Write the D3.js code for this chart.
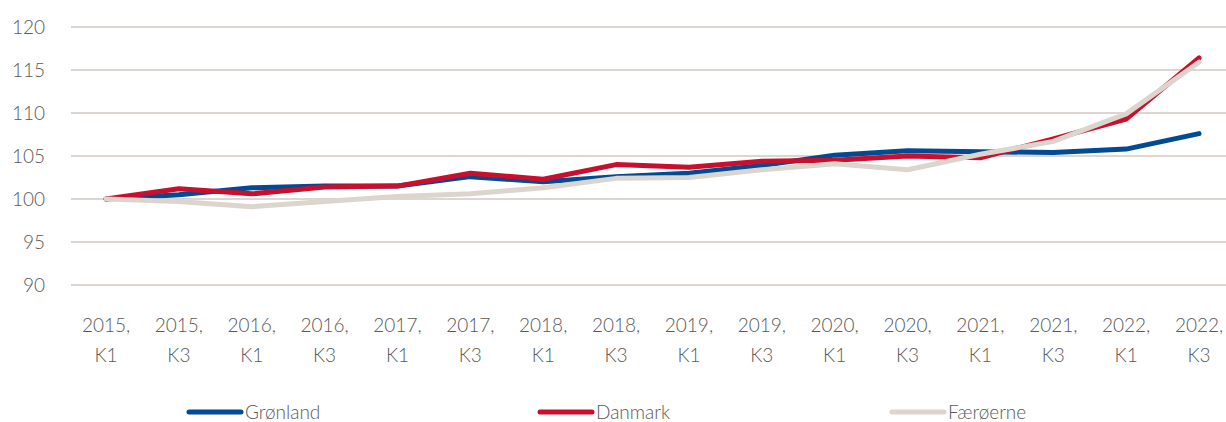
<!DOCTYPE html>
<meta charset="utf-8">
<style>
body { margin: 0; padding: 0; background: #fff; }
#chart { width: 1226px; height: 422px; }
.tick-label { font-family: Lato, "Open Sans", sans-serif; font-weight: 300; font-size: 19px; fill: #595959; }
.grid line { stroke: #dbd6d1; stroke-width: 2px; }
.series { fill: none; stroke-width: 5px; stroke-linejoin: round; stroke-linecap: round; }
</style>
<body>
<div id="chart"></div>
<script src="https://d3js.org/d3.v7.min.js"></script>
<script>
// half-year points, labelled "year, quarter"
var periods = ["2015,K1","2015,K3","2016,K1","2016,K3","2017,K1","2017,K3","2018,K1","2018,K3",
	"2019,K1","2019,K3","2020,K1","2020,K3","2021,K1","2021,K3","2022,K1","2022,K3"];
var yTicks = [90, 95, 100, 105, 110, 115, 120];

var groenland = [100, 100.5, 101.3, 101.5, 101.5, 102.6, 102.0, 102.6, 103.0, 103.9, 105.1, 105.6, 105.5, 105.4, 105.8, 107.6];
var danmark   = [100, 101.2, 100.6, 101.4, 101.5, 103.0, 102.3, 104.0, 103.7, 104.4, 104.5, 105.0, 104.8, 107.0, 109.3, 116.4];
var faeroerne = [100, 99.7, 99.1, 99.7, 100.3, 100.6, 101.3, 102.4, 102.5, 103.4, 104.1, 103.4, 105.2, 106.7, 109.9, 115.9];

var series = [
	{name: "Grønland", values: groenland, color: "#004b93"},
	{name: "Danmark", values: danmark, color: "#c8102e"},
	{name: "Færøerne", values: faeroerne, color: "#dbd5cd"}
];

var width = 1226, height = 422;
var svg = d3.select("#chart").append("svg")
	.attr("width", width)
	.attr("height", height);

var x = d3.scalePoint()
	.domain(periods)
	.range([106, 1199]);

var y = d3.scaleLinear()
	.domain([90, 120])
	.range([285, 27]);

// horizontal gridlines
svg.append("g")
	.attr("class", "grid")
	.selectAll("line")
	.data(yTicks).enter()
	.append("line")
	.attr("x1", 71)
	.attr("x2", width)
	.attr("y1", function(d) { return y(d); })
	.attr("y2", function(d) { return y(d); });

// y labels
svg.append("g")
	.selectAll("text")
	.data(yTicks).enter()
	.append("text")
	.attr("class", "tick-label")
	.attr("x", 45)
	.attr("y", function(d) { return y(d); })
	.attr("dy", "0.35em")
	.attr("text-anchor", "end")
	.text(function(d) { return d; });

// x labels, two lines each
var xl = svg.append("g")
	.selectAll("text")
	.data(periods).enter()
	.append("text")
	.attr("class", "tick-label")
	.attr("text-anchor", "middle");
xl.append("tspan")
	.attr("x", function(d) { return x(d); })
	.attr("y", 332)
	.text(function(d) { return d.split(",")[0] + ","; });
xl.append("tspan")
	.attr("x", function(d) { return x(d); })
	.attr("y", 362)
	.text(function(d) { return d.split(",")[1]; });

var line = d3.line()
	.x(function(d, i) { return x(periods[i]); })
	.y(function(d) { return y(d); });

svg.selectAll(".series")
	.data(series).enter()
	.append("path")
	.attr("class", "series")
	.attr("stroke", function(d) { return d.color; })
	.attr("d", function(d) { return line(d.values); });

// legend
var legendX = [189, 540, 892];
var lg = svg.selectAll(".legend")
	.data(series).enter()
	.append("g")
	.attr("class", "legend")
	.attr("transform", function(d, i) { return "translate(" + legendX[i] + ",412)"; });
lg.append("line")
	.attr("x1", 0).attr("x2", 52)
	.attr("stroke", function(d) { return d.color; })
	.attr("stroke-width", 5)
	.attr("stroke-linecap", "round");
lg.append("text")
	.attr("class", "tick-label")
	.attr("x", 56)
	.attr("dy", "0.35em")
	.text(function(d) { return d.name; });
</script>
</body>
